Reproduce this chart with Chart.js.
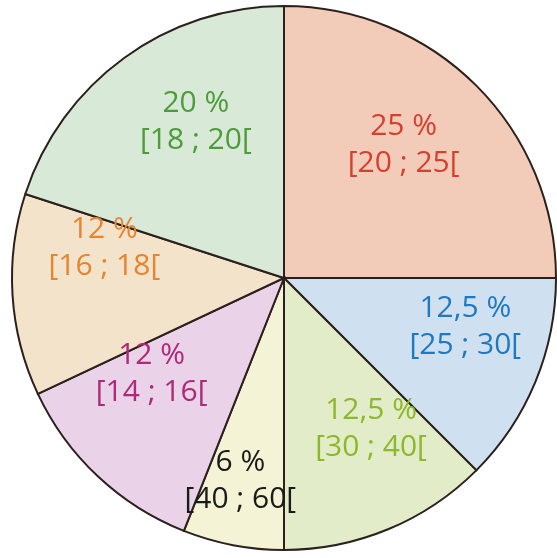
<!DOCTYPE html>
<html>
<head>
<meta charset="utf-8">
<script src="https://cdn.jsdelivr.net/npm/chart.js@4"></script>
<style>
  html, body { margin: 0; padding: 0; background: #ffffff; }
  #wrap { width: 557px; height: 558px; }
</style>
</head>
<body>
<div id="wrap"><canvas id="c" width="557" height="558"></canvas></div>
<script>
// Data
const categories = ["[20 ; 25[", "[25 ; 30[", "[30 ; 40[", "[40 ; 60[", "[14 ; 16[", "[16 ; 18[", "[18 ; 20["];
const percentLabels = ["25 %", "12,5 %", "12,5 %", "6 %", "12 %", "12 %", "20 %"];
const values = [25, 12.5, 12.5, 6, 12, 12, 20];

// Styles
const fillColors = ["#f2cbb9", "#cfe1f1", "#e2ecc8", "#f4f3d6", "#ead3e9", "#f4e3cb", "#d9e9d7"];
const textColors = ["#d6402f", "#1f78c2", "#8cb82c", "#1a1a1a", "#ad2a78", "#e8842e", "#4c9c3a"];
// label placement: angle (deg, clockwise from top) and fraction of radius
const labelAngles = [41.8, 105, 150, 192.2, 234.2, 279.7, 330.6];
const labelRadii = [0.66, 0.69, 0.64, 0.76, 0.60, 0.67, 0.66];

const labelPlugin = {
  id: 'sliceLabels',
  afterDatasetsDraw(chart) {
    const ctx = chart.ctx;
    const meta = chart.getDatasetMeta(0);
    ctx.save();
    ctx.font = '30px "Open Sans", sans-serif';
    ctx.textAlign = 'center';
    ctx.textBaseline = 'middle';
    meta.data.forEach((arc, i) => {
      const p = arc.getProps(['x', 'y', 'outerRadius'], true);
      const a = labelAngles[i] * Math.PI / 180;
      const r = p.outerRadius * labelRadii[i];
      const cx = p.x + Math.sin(a) * r;
      const cy = p.y - Math.cos(a) * r;
      ctx.fillStyle = textColors[i];
      ctx.fillText(percentLabels[i], cx, cy - 18);
      ctx.fillText(categories[i], cx, cy + 19);
    });
    ctx.restore();
  }
};

new Chart(document.getElementById('c'), {
  type: 'pie',
  data: {
    labels: categories,
    datasets: [{
      data: values,
      backgroundColor: fillColors,
      borderColor: '#2b201c',
      borderWidth: 2,
      borderJoinStyle: 'miter'
    }]
  },
  options: {
    responsive: false,
    animation: false,
    rotation: 0,
    layout: { padding: { left: 11, right: 0, top: 5, bottom: 7 } },
    plugins: {
      legend: { display: false },
      tooltip: { enabled: false },
      title: { display: false }
    }
  },
  plugins: [labelPlugin]
});
</script>
</body>
</html>
